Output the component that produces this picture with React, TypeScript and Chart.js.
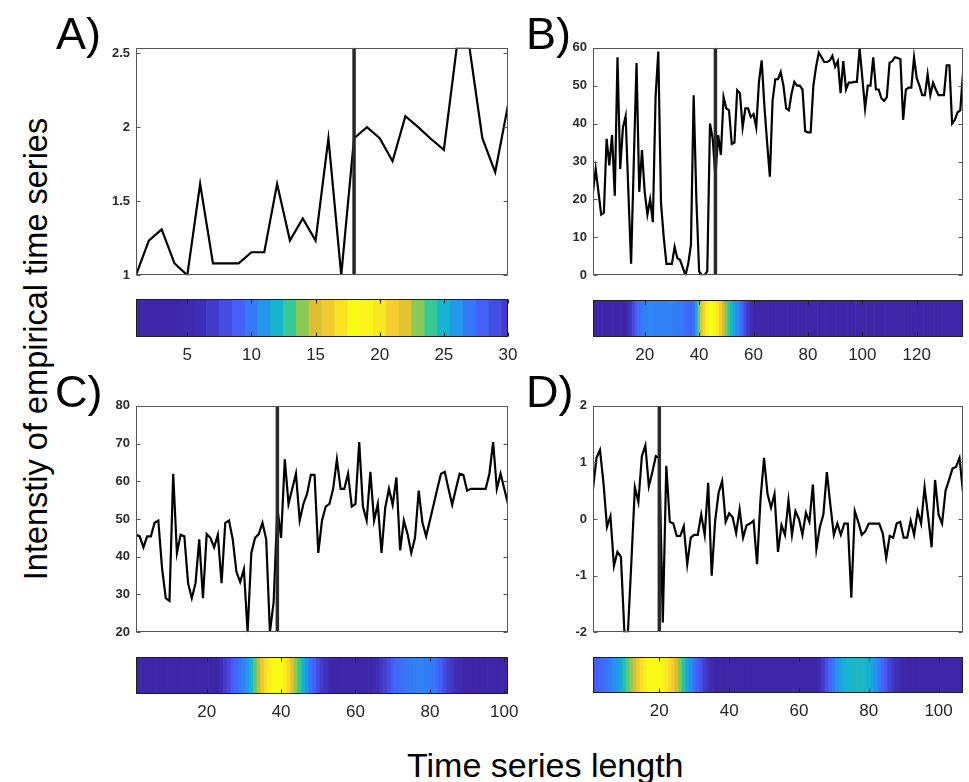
import React, { useEffect, useRef } from "react";
import { Chart, registerables } from "chart.js";
Chart.register(...registerables);

const FONT = "'Liberation Sans', Arial, Helvetica, sans-serif";

// ---------- DATA ----------
const seriesA = [1.0, 1.234, 1.31, 1.08, 1.0, 1.617, 1.08, 1.08, 1.08, 1.155, 1.155, 1.617, 1.234, 1.383, 1.234, 1.925, 1.0, 1.925, 2.0, 1.925, 1.77, 2.074, 2.0, 1.92, 1.847, 2.536, 2.536, 1.925, 1.696, 2.149];
const heatA = [0, 0, 0, 0, 0.01, 0.02, 0.05, 0.09, 0.14, 0.21, 0.3, 0.39, 0.5, 0.64, 0.78, 0.85, 0.93, 1.0, 0.98, 0.95, 0.86, 0.8, 0.64, 0.5, 0.39, 0.3, 0.21, 0.14, 0.09, 0.05];
const markerA = 18;
const yTicksA = [1, 1.5, 2, 2.5];
const xTicksA = [5, 10, 15, 20, 25, 30];

const seriesB = [
  22, 28, 22, 16, 16.5, 36, 29, 37, 21, 57.5,
  28, 39, 42, 22, 3, 30, 56, 22, 33, 22,
  16, 20, 14, 47, 59, 19, 10, 3, 3, 3,
  7.5, 4.5, 4, 2, 0, 3, 8, 47.5, 20, 1,
  0, 0, 1, 40, 36, 26, 37, 31.7, 47, 44,
  43.5, 34.6, 35, 48.8, 48, 39, 44, 44, 41.7, 42.5,
  39, 51, 56.7, 44.6, 35, 26, 46, 51.7, 51.7, 53.6,
  50, 44, 43.5, 48, 51, 50, 50, 49, 38, 37.7,
  37.7, 50, 55, 58.75, 57.5, 56.25, 56.25, 56.6, 57.9, 55,
  56.5, 48, 56.5, 49, 50.8, 50.8, 51, 51, 60, 52,
  44, 50, 50, 57.5, 49, 49, 46.7, 46, 47, 56,
  56.5, 57.5, 57.3, 57, 41, 49, 49.5, 49.5, 57.5, 52,
  50, 47.5, 47.5, 53, 47.5, 50.8, 49, 47.5, 47.5, 47.5,
  55.4, 55.4, 40, 41, 43, 43.5, 53.3
];
const heatB = [
  0, 0, 0, 0, 0, 0, 0, 0, 0, 0,
  0, 0, 0, 0.02, 0.04, 0.08, 0.13, 0.18, 0.21, 0.23,
  0.24, 0.25, 0.25, 0.24, 0.24, 0.23, 0.23, 0.23, 0.24, 0.24,
  0.23, 0.22, 0.21, 0.2, 0.18, 0.16, 0.15, 0.18, 0.32, 0.58,
  0.8, 0.9, 0.97, 1, 1, 0.98, 0.93, 0.86, 0.76, 0.6,
  0.48, 0.4, 0.33, 0.27, 0.21, 0.15, 0.09, 0.05, 0.02, 0.01,
  0, 0, 0, 0, 0, 0, 0, 0, 0, 0,
  0, 0, 0, 0, 0, 0, 0, 0, 0, 0,
  0, 0, 0, 0, 0, 0, 0, 0, 0, 0,
  0, 0, 0, 0, 0, 0, 0, 0, 0, 0,
  0, 0, 0, 0, 0, 0, 0, 0, 0, 0,
  0, 0, 0, 0, 0, 0, 0, 0, 0, 0,
  0, 0, 0, 0, 0, 0, 0, 0, 0, 0,
  0, 0, 0, 0, 0, 0, 0
];
const markerB = 46;
const yTicksB = [0, 10, 20, 30, 40, 50, 60];
const xTicksB = [20, 40, 60, 80, 100, 120];

const seriesC = [
  45.8, 45.4, 42.5, 45.4, 45.4, 49, 49.6, 37, 29, 28.3,
  62, 41, 45.8, 45.4, 33, 29, 33, 44.6, 29, 46,
  45, 42.5, 45.8, 33, 49, 49.6, 44.6, 36, 33.3, 36.7,
  20, 41, 45, 46, 49, 44.6, 20, 28, 53, 45,
  65.8, 54, 58, 62, 49.6, 54, 56.7, 61.7, 61.7, 41,
  49.6, 53.3, 54, 58, 65.8, 58, 58, 62, 53.3, 54,
  70.4, 53.3, 49.6, 62.5, 49.6, 54, 41, 53, 58, 53.75,
  61, 41.7, 49.6, 46, 41, 45, 57.5, 49, 45.4, 49.6,
  53.75, 58, 62, 62.5, 58, 53.75, 58, 62, 61.7, 57.5,
  58, 58, 58, 58, 58, 62, 70.4, 58, 62, 58,
  54
];
const heatC = [
  0, 0, 0, 0, 0, 0, 0, 0, 0, 0,
  0, 0, 0, 0, 0, 0, 0, 0, 0, 0,
  0, 0, 0, 0.02, 0.05, 0.08, 0.12, 0.16, 0.2, 0.24,
  0.3, 0.4, 0.55, 0.72, 0.84, 0.92, 0.97, 1, 1, 1,
  0.97, 0.9, 0.8, 0.64, 0.5, 0.38, 0.28, 0.2, 0.14, 0.09,
  0.05, 0.03, 0.01, 0, 0, 0, 0, 0, 0, 0,
  0, 0, 0, 0, 0.01, 0.02, 0.04, 0.06, 0.09, 0.12,
  0.15, 0.17, 0.19, 0.21, 0.22, 0.23, 0.24, 0.24, 0.23, 0.22,
  0.2, 0.17, 0.13, 0.09, 0.06, 0.04, 0.02, 0.01, 0, 0,
  0, 0, 0, 0, 0, 0, 0, 0, 0, 0,
  0
];
const markerC = 39;
const yTicksC = [20, 30, 40, 50, 60, 70, 80];
const xTicksC = [20, 40, 60, 80, 100];

const seriesD = [
  0.53, 1.08, 1.22, 0.64, -0.14, 0.05, -0.83, -0.58, -0.67, -2,
  -2, -0.75, 0.56, 0.3, 1.11, 1.3, 0.58, 0.83, 1.11, 1.08,
  -1.83, 0.94, -0.05, -0.08, -0.3, -0.3, -0.13, -0.8, -0.33, -0.28,
  -0.28, 0.08, -0.28, 0.64, -1.0, -0.03, 0.47, 0.67, -0.05, 0.1,
  0.03, -0.25, 0.17, -0.33, -0.11, -0.08, -0.03, -0.8, 0.36, 1.08,
  0.44, 0.2, 0.44, -0.58, -0.11, -0.28, 0.33, -0.28, 0.14, 0,
  -0.28, 0.11, -0.05, 0.61, -0.53, -0.14, 0.08, 0.83, 0.25, -0.28,
  -0.08, -0.28, -0.08, -0.08, -1.39, 0.14, -0.05, -0.28, -0.22, -0.08,
  -0.08, -0.08, -0.08, -0.25, -0.69, -0.3, -0.33, -0.08, -0.05, -0.33,
  -0.33, -0.03, -0.28, 0.14, -0.08, 0.56, 0.05, -0.5, 0.69, 0.08,
  -0.08, 0.5, 0.69, 0.89, 0.92, 1.08, 0.47
];
const heatD = [
  0.12, 0.14, 0.16, 0.18, 0.2, 0.23, 0.27, 0.31, 0.37, 0.45,
  0.55, 0.66, 0.77, 0.85, 0.92, 0.97, 1, 1, 1, 1,
  0.98, 0.95, 0.9, 0.85, 0.77, 0.62, 0.47, 0.36, 0.27, 0.2,
  0.14, 0.1, 0.06, 0.03, 0.01, 0, 0, 0, 0, 0,
  0, 0, 0, 0, 0, 0, 0, 0, 0, 0,
  0, 0, 0, 0, 0, 0, 0, 0, 0, 0,
  0, 0, 0, 0, 0, 0.02, 0.05, 0.1, 0.16, 0.22,
  0.28, 0.33, 0.37, 0.39, 0.4, 0.41, 0.41, 0.41, 0.4, 0.38,
  0.34, 0.28, 0.22, 0.16, 0.11, 0.07, 0.04, 0.02, 0.01, 0,
  0, 0, 0, 0, 0, 0, 0, 0, 0, 0,
  0, 0, 0, 0, 0, 0, 0
];
const markerD = 20;
const yTicksD = [-2, -1, 0, 1, 2];
const xTicksD = [20, 40, 60, 80, 100];

const panelLabels = ["A)", "B)", "C)", "D)"];
const yTitle = "Intenstiy of empirical time series";
const xTitle = "Time series length";

// ---------- STYLE ----------
const PARULA: number[][] = [
  [0, 62, 38, 168],
  [0.125, 71, 91, 249],
  [0.25, 46, 135, 247],
  [0.375, 18, 177, 214],
  [0.5, 55, 200, 151],
  [0.625, 129, 204, 89],
  [0.75, 209, 187, 48],
  [0.875, 252, 207, 48],
  [1, 249, 251, 21],
];
function parula(v: number): string {
  const t = Math.max(0, Math.min(1, v));
  for (let k = 1; k < PARULA.length; k++) {
    const a = PARULA[k - 1], b = PARULA[k];
    if (t <= b[0]) {
      const f = (t - a[0]) / (b[0] - a[0]);
      const c = [1, 2, 3].map((j) => Math.round(a[j] + (b[j] - a[j]) * f));
      return `rgb(${c[0]},${c[1]},${c[2]})`;
    }
  }
  return "rgb(249,251,21)";
}

const framePlugin = {
  id: "frameTicks",
  afterDraw(chart: any, _args: any, opts: any) {
    const { ctx, chartArea: a } = chart;
    ctx.save();
    ctx.strokeStyle = opts.color;
    ctx.lineWidth = 1;
    const L = Math.round(a.left) + 0.5, R = Math.round(a.right) - 0.5;
    const T = Math.round(a.top) + 0.5, B = Math.round(a.bottom) - 0.5;
    ctx.strokeRect(L, T, R - L, B - T);
    const len = opts.len;
    ctx.beginPath();
    if (opts.axis === "y") {
      const s = chart.scales.y;
      for (const t of s.ticks) {
        const p = Math.round(s.getPixelForValue(t.value)) + 0.5;
        ctx.moveTo(L, p); ctx.lineTo(L + len, p);
        ctx.moveTo(R, p); ctx.lineTo(R - len, p);
      }
    } else {
      const s = chart.scales.x;
      for (const t of s.ticks) {
        const p = Math.round(s.getPixelForValue(t.value)) + 0.5;
        ctx.moveTo(p, T); ctx.lineTo(p, T + len);
        ctx.moveTo(p, B); ctx.lineTo(p, B - len);
      }
    }
    ctx.stroke();
    ctx.restore();
  },
};

type Box = { l: number; t: number; r: number; b: number };

function LinePanel(props: { values: number[]; marker: number; yMin: number; yMax: number; yTicks: number[]; box: Box }) {
  const ref = useRef<HTMLCanvasElement>(null);
  const padL = 50, padT = 10, padR = 10, padB = 4;
  const { box } = props;
  const w = box.r - box.l + padL + padR;
  const h = box.b - box.t + padT + padB;
  useEffect(() => {
    const { values, marker, yMin, yMax, yTicks } = props;
    const chart = new Chart(ref.current!, {
      type: "line",
      data: {
        datasets: [
          { data: [{ x: marker, y: yMin }, { x: marker, y: yMax }], borderColor: "#2a2a2a", borderWidth: 3.5, pointRadius: 0 },
          { data: values.map((v, i) => ({ x: i + 1, y: v })), borderColor: "#000", borderWidth: 2.2, pointRadius: 0, tension: 0 },
        ],
      } as any,
      options: {
        responsive: false,
        animation: false,
        devicePixelRatio: 1,
        events: [],
        layout: { padding: { left: 0, top: padT, right: padR, bottom: padB } },
        plugins: {
          legend: { display: false },
          tooltip: { enabled: false },
          frameTicks: { color: "#555", axis: "y", len: 4 },
        } as any,
        scales: {
          x: { type: "linear", display: false, min: 1, max: values.length },
          y: {
            type: "linear",
            min: yMin,
            max: yMax,
            grid: { display: false, drawTicks: false },
            border: { display: false },
            afterFit: (s: any) => { s.width = padL; },
            afterBuildTicks: (s: any) => { s.ticks = yTicks.map((v) => ({ value: v })); },
            ticks: { padding: 6, color: "#2b2b2b", font: { family: FONT, size: 13, weight: "bold" }, callback: (v: any) => String(v) },
          },
        },
      } as any,
      plugins: [framePlugin],
    });
    return () => chart.destroy();
  }, []);
  return <canvas ref={ref} width={w} height={h} style={{ position: "absolute", left: box.l - padL, top: box.t - padT, width: w, height: h }} />;
}

function StripPanel(props: { heat: number[]; xTicks: number[]; box: Box }) {
  const ref = useRef<HTMLCanvasElement>(null);
  const padL = 20, padT = 2, padR = 20, axisH = 30;
  const { box } = props;
  const w = box.r - box.l + padL + padR;
  const h = box.b - box.t + padT + axisH;
  useEffect(() => {
    const { heat, xTicks } = props;
    const chart = new Chart(ref.current!, {
      type: "bar",
      data: {
        datasets: [
          {
            data: heat.map((_, i) => ({ x: i + 1, y: 1 })),
            backgroundColor: heat.map(parula),
            borderWidth: 0,
            barPercentage: 1,
            categoryPercentage: 1,
            clip: 0,
          },
        ],
      } as any,
      options: {
        responsive: false,
        animation: false,
        devicePixelRatio: 1,
        events: [],
        layout: { padding: { left: padL, top: padT, right: padR, bottom: 0 } },
        plugins: {
          legend: { display: false },
          tooltip: { enabled: false },
          frameTicks: { color: "#1e1e1e", axis: "x", len: 4 },
        } as any,
        scales: {
          x: {
            type: "linear",
            offset: false,
            min: 1,
            max: heat.length,
            grid: { display: false, drawTicks: false },
            border: { display: false },
            afterFit: (s: any) => { s.height = axisH; },
            afterBuildTicks: (s: any) => { s.ticks = xTicks.map((v) => ({ value: v })); },
            ticks: { padding: 8, autoSkip: false, maxRotation: 0, color: "#262626", font: { family: FONT, size: 17 }, callback: (v: any) => String(v) },
          },
          y: { display: false, min: 0, max: 1 },
        },
      } as any,
      plugins: [framePlugin],
    });
    return () => chart.destroy();
  }, []);
  return <canvas ref={ref} width={w} height={h} style={{ position: "absolute", left: box.l - padL, top: box.t - padT, width: w, height: h }} />;
}

const labelStyle = (left: number, top: number): React.CSSProperties => ({
  position: "absolute", left, top, fontSize: 45, lineHeight: 1, fontFamily: FONT, color: "#000", whiteSpace: "nowrap",
});

export default function App() {
  return (
    <div style={{ position: "absolute", left: 0, top: 0, width: 969, height: 782, background: "#fff", overflow: "hidden", fontFamily: FONT }}>
      <LinePanel values={seriesA} marker={markerA} yMin={1} yMax={2.536} yTicks={yTicksA} box={{ l: 136, t: 44, r: 508, b: 285 }} />
      <StripPanel heat={heatA} xTicks={xTicksA} box={{ l: 136, t: 299, r: 508, b: 337 }} />
      <LinePanel values={seriesB} marker={markerB} yMin={0} yMax={60} yTicks={yTicksB} box={{ l: 593, t: 44, r: 963, b: 285 }} />
      <StripPanel heat={heatB} xTicks={xTicksB} box={{ l: 593, t: 300, r: 963, b: 337 }} />
      <LinePanel values={seriesC} marker={markerC} yMin={20} yMax={80} yTicks={yTicksC} box={{ l: 136, t: 402, r: 508, b: 642 }} />
      <StripPanel heat={heatC} xTicks={xTicksC} box={{ l: 136, t: 657, r: 508, b: 694 }} />
      <LinePanel values={seriesD} marker={markerD} yMin={-2} yMax={2} yTicks={yTicksD} box={{ l: 593, t: 402, r: 963, b: 642 }} />
      <StripPanel heat={heatD} xTicks={xTicksD} box={{ l: 593, t: 657, r: 963, b: 693 }} />

      <div style={labelStyle(56, 11)}>{panelLabels[0]}</div>
      <div style={labelStyle(526, 11)}>{panelLabels[1]}</div>
      <div style={labelStyle(55, 369)}>{panelLabels[2]}</div>
      <div style={labelStyle(526, 369)}>{panelLabels[3]}</div>

      <div style={{ position: "absolute", left: 36, top: 348.5, fontSize: 32.5, lineHeight: 1, whiteSpace: "nowrap", color: "#000", transform: "translate(-50%, -50%) rotate(-90deg)" }}>{yTitle}</div>
      <div style={{ position: "absolute", left: 407, top: 748, fontSize: 34, lineHeight: 1, whiteSpace: "nowrap", color: "#000" }}>{xTitle}</div>
    </div>
  );
}
